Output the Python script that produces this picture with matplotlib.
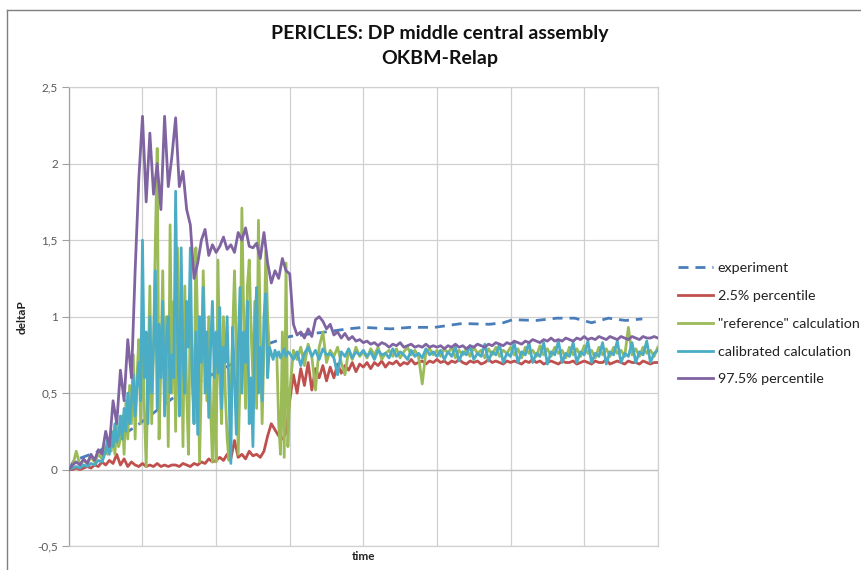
import numpy as np
import matplotlib
matplotlib.use("Agg")
import matplotlib.pyplot as plt
from matplotlib.lines import Line2D
from matplotlib.ticker import FuncFormatter

# ─── Data (time in grid divisions) ───────────────────────────────────────────

# percentiles: one sample every 0.05 division over the whole run
pct_975 = [
    0.0, 0.03, 0.05, 0.03, 0.07, 0.04, 0.1, 0.06, 0.13, 0.1,
    0.25, 0.15, 0.45, 0.3, 0.65, 0.45, 0.85, 0.6, 1.3, 1.9,
    2.31, 1.75, 2.2, 1.8, 2.0, 1.7, 2.31, 1.85, 2.05, 2.3,
    1.85, 1.95, 1.7, 1.6, 1.25, 1.35, 1.5, 1.57, 1.4, 1.47,
    1.42, 1.46, 1.52, 1.44, 1.47, 1.42, 1.55, 1.5, 1.58, 1.46,
    1.45, 1.48, 1.38, 1.55, 1.35, 1.22, 1.3, 1.25, 1.38, 1.3,
    1.28, 0.95, 0.88, 0.9, 0.86, 0.92, 0.87, 0.98, 1.0, 0.97,
    0.92, 0.95, 0.88, 0.9, 0.86, 0.89, 0.85, 0.87, 0.84, 0.85,
    0.83,
    0.84, 0.82, 0.83, 0.81, 0.83, 0.82, 0.80, 0.82, 0.81, 0.83,
    0.80, 0.81, 0.82, 0.80, 0.81, 0.80, 0.82, 0.80, 0.81, 0.80,
    0.81, 0.79, 0.81, 0.80, 0.82, 0.80, 0.81, 0.79, 0.81, 0.80,
    0.82, 0.81, 0.80, 0.82, 0.81, 0.83, 0.82, 0.81, 0.83, 0.82,
    0.84, 0.83, 0.82, 0.84, 0.83, 0.85, 0.84, 0.83, 0.85, 0.84,
    0.86, 0.84, 0.85, 0.84, 0.86, 0.85, 0.84, 0.86, 0.85, 0.87,
    0.85, 0.86, 0.85, 0.87, 0.86, 0.85, 0.87, 0.86, 0.85, 0.87,
    0.86, 0.85, 0.87, 0.86, 0.85, 0.87, 0.86, 0.86, 0.87, 0.86,
]

pct_025 = [
    0.0, 0.0, 0.01, 0.0, 0.01, 0.02, 0.01, 0.03, 0.02, 0.05,
    0.03, 0.06, 0.04, 0.1, 0.03, 0.07, 0.02, 0.05, 0.03, 0.02,
    0.04,
    0.02, 0.03, 0.02, 0.04, 0.02, 0.03, 0.02, 0.03, 0.03, 0.02,
    0.04, 0.03, 0.02, 0.04, 0.03,
    0.05, 0.04, 0.07, 0.05, 0.06, 0.08, 0.06, 0.1, 0.07, 0.19,
    0.08, 0.1, 0.07, 0.12, 0.09,
    0.1, 0.08, 0.12, 0.22, 0.3, 0.26, 0.22, 0.2, 0.24, 0.45,
    0.62, 0.5, 0.66, 0.55, 0.7, 0.52, 0.66, 0.6, 0.68, 0.58,
    0.67, 0.6, 0.69, 0.63, 0.68, 0.65, 0.7, 0.64, 0.69, 0.67,
    0.7, 0.66, 0.7, 0.68, 0.71, 0.67, 0.7, 0.69, 0.71, 0.68,
    0.7, 0.69, 0.72, 0.69, 0.7, 0.71, 0.69, 0.71, 0.7, 0.72,
    0.7, 0.71, 0.69, 0.71, 0.7, 0.72, 0.7, 0.69, 0.71, 0.7,
    0.71, 0.69, 0.7, 0.72, 0.7, 0.71, 0.7, 0.69, 0.71, 0.7,
    0.71, 0.7, 0.69, 0.71, 0.7, 0.72, 0.7, 0.71, 0.69, 0.7,
    0.71, 0.7, 0.69, 0.71, 0.7, 0.7, 0.71, 0.69, 0.7, 0.71,
    0.7, 0.69, 0.71, 0.7, 0.7, 0.72, 0.69, 0.7, 0.71, 0.7,
    0.69, 0.71, 0.7, 0.7, 0.69, 0.71, 0.7, 0.69, 0.7, 0.7,
]

# calculations: 0.05 steps, but 0.025 steps in the oscillating part (0.5 .. 3.0)
reference = [
    # 0 .. 0.45
    0.0, 0.02, 0.12, 0.03, 0.06, 0.04, 0.08, 0.05, 0.1, 0.07,
    # 0.5 .. 2.975
    0.15, 0.1, 0.2, 0.12, 0.25, 0.1, 0.3, 0.15, 0.2, 0.35,
    0.1, 0.45, 0.2, 0.55, 0.3, 0.75, 0.2, 0.6, 0.85, 0.3,
    0.9, 0.4, 0.02, 0.6, 1.2, 0.3, 0.8, 1.5, 2.1, 0.2,
    0.7, 1.3, 0.4, 1.0, 0.15, 1.6, 0.5, 1.1, 0.25, 1.45,
    0.6, 1.0, 0.15, 1.2, 0.5, 0.1, 1.1, 0.7, 0.3, 1.45,
    0.9, 0.05, 0.6, 1.3, 0.8, 0.45, 1.0, 0.4, 0.05, 0.7,
    0.05, 1.37, 0.6, 0.3, 1.0, 0.5, 0.2, 0.06, 0.5, 0.9,
    1.3, 0.8, 0.1, 0.6, 1.71, 1.0, 0.4, 1.2, 1.37, 0.9,
    0.6, 1.1, 0.4, 1.63, 0.9, 0.3, 0.8, 1.43, 1.0, 0.76,
    0.75, 0.74, 0.76, 0.75, 0.3, 0.1, 0.9, 0.08, 1.35, 0.15,
    # 3.0 .. 8.0
    0.5, 0.78, 0.72, 0.8, 0.68, 0.82, 0.74, 0.52, 0.8, 0.9,
    0.7, 0.78, 0.74, 0.8, 0.7, 0.62, 0.78, 0.72, 0.8, 0.74,
    0.77,
    0.73, 0.79, 0.75, 0.8, 0.72, 0.76, 0.78, 0.74, 0.79, 0.73,
    0.77, 0.8, 0.75, 0.78, 0.74, 0.56, 0.77, 0.79, 0.75, 0.78,
    0.74, 0.79, 0.76, 0.8, 0.73, 0.78, 0.75, 0.79, 0.74, 0.8,
    0.76, 0.78, 0.73, 0.79, 0.75, 0.8, 0.74, 0.78, 0.76, 0.8,
    0.75, 0.79, 0.73, 0.8, 0.76, 0.78, 0.74, 0.81, 0.75, 0.79,
    0.74, 0.8, 0.76, 0.78, 0.73, 0.8, 0.75, 0.79, 0.74, 0.81,
    0.76, 0.78, 0.73, 0.8, 0.75, 0.79, 0.74, 0.8, 0.76, 0.78,
    0.74, 0.93, 0.75, 0.79, 0.74, 0.8, 0.76, 0.78, 0.74, 0.8,
]

calibrated = [
    # 0 .. 0.45
    0.0, 0.01, 0.02, 0.01, 0.03, 0.02, 0.04, 0.03, 0.06, 0.05,
    # 0.5 .. 2.975
    0.12, 0.2, 0.1, 0.25, 0.15, 0.3, 0.18, 0.22, 0.35, 0.2,
    0.4, 0.25, 0.5, 0.3, 0.45, 0.62, 0.35, 0.55, 0.7, 0.45,
    1.5, 0.6, 0.9, 0.3, 1.0, 0.5, 0.8, 1.3, 0.4, 0.95,
    0.6, 1.1, 0.35, 0.85, 1.0, 0.5, 0.75, 0.6, 1.82, 0.9,
    0.35, 1.45, 0.7, 0.5, 1.1, 0.8, 1.45, 0.6, 0.3, 0.9,
    0.23, 1.0, 0.7, 1.19, 0.5, 0.9, 0.34, 0.8, 1.1, 0.6,
    0.9, 0.63, 1.06, 0.4, 0.8, 0.7, 1.0, 0.5, 0.04, 0.93,
    0.6, 0.23, 0.8, 1.19, 0.5, 0.9, 0.7, 1.1, 0.3, 0.6,
    0.15, 0.9, 1.19, 0.5, 0.8, 0.45, 1.0, 1.15, 0.6, 0.8,
    0.76, 0.72, 0.78, 0.74, 0.77, 0.73, 0.76, 0.79, 0.74, 0.77,
    # 3.0 .. 8.0
    0.76, 0.72, 0.77, 0.68, 0.76, 0.8, 0.74, 0.78, 0.72, 0.79,
    0.75, 0.76, 0.73, 0.62, 0.77, 0.74, 0.79, 0.73, 0.77, 0.75,
    0.78,
    0.74, 0.77, 0.72, 0.78, 0.75, 0.76, 0.73, 0.79, 0.74, 0.77,
    0.75, 0.72, 0.78, 0.74, 0.76, 0.73, 0.79, 0.75, 0.77, 0.74,
    0.78, 0.72, 0.77, 0.74, 0.8, 0.71, 0.77, 0.75, 0.81, 0.72,
    0.76, 0.74, 0.82, 0.71, 0.77, 0.75, 0.82, 0.7, 0.76, 0.74,
    0.83, 0.7, 0.77, 0.75, 0.83, 0.7, 0.76, 0.74, 0.83, 0.69,
    0.77, 0.75, 0.84, 0.7, 0.76, 0.74, 0.83, 0.7, 0.77, 0.75,
    0.84, 0.7, 0.76, 0.74, 0.83, 0.69, 0.77, 0.75, 0.84, 0.7,
    0.76, 0.74, 0.83, 0.7, 0.77, 0.75, 0.84, 0.7, 0.76, 0.78,
]

# experiment is smooth, sampled coarser
exp_time = [0, 0.07, 0.41, 0.96, 1.5, 2.05, 2.46, 2.69, 3.0, 3.49,
            3.79, 4.0, 4.37, 4.64, 4.97, 5.34, 5.71, 5.9, 6.03, 6.35,
            6.63, 6.87, 7.1, 7.33, 7.56, 7.79]
experiment = [0.0, 0.06, 0.12, 0.3, 0.5, 0.65, 0.75, 0.82, 0.87, 0.9,
              0.92, 0.93, 0.92, 0.93, 0.93, 0.955, 0.95, 0.96, 0.98, 0.975,
              0.99, 0.99, 0.96, 0.99, 0.975, 0.985]

# ─── Sample times ────────────────────────────────────────────────────────────

t_coarse = np.arange(len(pct_975)) * 0.05
t_fine = np.concatenate([
    np.arange(10) * 0.05,
    0.5 + np.arange(100) * 0.025,
    3.0 + np.arange(101) * 0.05,
])

# ─── Styling ─────────────────────────────────────────────────────────────────

C_EXP = "#4a7ebb"
C_RED = "#c0504d"
C_GREEN = "#9bbb59"
C_CYAN = "#4bacc6"
C_PURPLE = "#8064a2"
GRID = "#d0d0d0"
TXT = "#595959"

plt.rcParams["font.family"] = ["Lato", "DejaVu Sans"]

fig = plt.figure(figsize=(8.61, 5.70), dpi=100)
ax = fig.add_axes([0.080, 0.042, 0.684, 0.805])

lw = 2.0

ax.plot(exp_time, experiment, color=C_EXP, lw=lw, ls=(0, (3.6, 2.5)),
        label="experiment", zorder=2)
ax.plot(t_coarse, pct_025, color=C_RED, lw=lw, label="2.5% percentile", zorder=3)
ax.plot(t_fine, reference, color=C_GREEN, lw=lw, label='"reference" calculation', zorder=4)
ax.plot(t_fine, calibrated, color=C_CYAN, lw=lw, label="calibrated calculation", zorder=5)
ax.plot(t_coarse, pct_975, color=C_PURPLE, lw=lw, label="97.5% percentile", zorder=6)

ax.set_xlim(0, 8)
ax.set_ylim(-0.5, 2.5)
ax.set_xticks(np.arange(0, 9))
ax.set_yticks(np.arange(-0.5, 2.51, 0.5))
ax.xaxis.set_ticklabels([])
ax.yaxis.set_major_formatter(FuncFormatter(lambda v, _: f"{v:g}".replace(".", ",")))
ax.tick_params(axis="x", length=0)
ax.tick_params(axis="y", length=5, color="#a0a0a0", labelsize=8.5, labelcolor=TXT, pad=3)
ax.grid(True, color=GRID, lw=0.9, zorder=0)
ax.set_axisbelow(True)
for name, sp in ax.spines.items():
    sp.set_color(GRID)
    sp.set_linewidth(0.9)
ax.spines["left"].set_color("#a0a0a0")
ax.axhline(0, color="#c0c0c0", lw=0.9, zorder=1)

ax.set_xlabel("time", fontsize=8.5, fontweight="bold", color="#222222", labelpad=0)
ax.set_ylabel("deltaP", fontsize=8.5, fontweight="bold", color="#222222", labelpad=7)

fig.text(0.511, 0.942, "PERICLES: DP middle central assembly", ha="center", va="center",
         fontsize=14, fontweight="bold", color="#111111")
fig.text(0.511, 0.898, "OKBM-Relap", ha="center", va="center",
         fontsize=14, fontweight="bold", color="#111111")

handles, labels = ax.get_legend_handles_labels()
fig.legend(handles, labels, loc="center left", bbox_to_anchor=(0.772, 0.432),
           frameon=False, fontsize=10.3, handlelength=2.5, handletextpad=0.3,
           labelspacing=1.1, labelcolor="#222222")

# chart-area border (only the top and left edges are visible in the crop)
fig.add_artist(Line2D([7 / 861, 7 / 861], [0, 1 - 10 / 570], transform=fig.transFigure,
                      color="#7f7f7f", lw=1.0))
fig.add_artist(Line2D([7 / 861, 1], [1 - 10 / 570, 1 - 10 / 570], transform=fig.transFigure,
                      color="#7f7f7f", lw=1.0))

fig.savefig("out.png", dpi=100)
